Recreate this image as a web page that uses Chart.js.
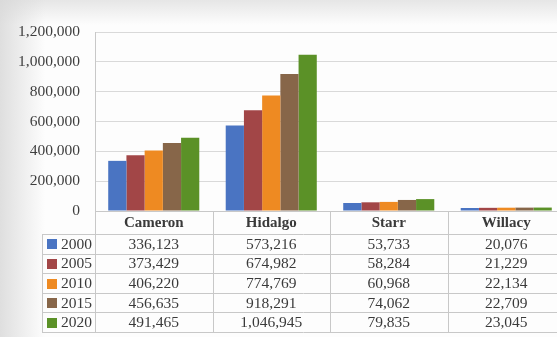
<!DOCTYPE html>
<html>
<head>
<meta charset="utf-8">
<script src="https://cdn.jsdelivr.net/npm/chart.js@4"></script>
<style>
  html, body { margin: 0; padding: 0; overflow: hidden; }
  body {
    width: 557px; height: 337px;
    background:
      linear-gradient(to right, rgba(215,215,215,0.8) 0px, rgba(255,255,255,0) 45px),
      linear-gradient(to bottom, rgba(220,220,220,0.7) 0px, rgba(255,255,255,0) 25px),
      #fdfdfd;
  }
  canvas { display: block; }
</style>
</head>
<body>
<canvas id="myChart" width="570" height="337"></canvas>
<script>
// population by county
const counties = ['Cameron', 'Hidalgo', 'Starr', 'Willacy'];
const years = ['2000', '2005', '2010', '2015', '2020'];

const pop2000 = [336123, 573216, 53733, 20076];
const pop2005 = [373429, 674982, 58284, 21229];
const pop2010 = [406220, 774769, 60968, 22134];
const pop2015 = [456635, 918291, 74062, 22709];
const pop2020 = [491465, 1046945, 79835, 23045];

const yTicks = [0, 200000, 400000, 600000, 800000, 1000000, 1200000];

const colors = ['#4a74c2', '#a24647', '#ee8a22', '#876649', '#5b9127'];
const series = [pop2000, pop2005, pop2010, pop2015, pop2020];

const fontFamily = '"Liberation Serif", "Times New Roman", serif';

// data table drawn under the bars, columns follow the x scale
const dataTable = {
  id: 'dataTable',
  afterDraw(chart) {
    const ctx = chart.ctx;
    const xs = chart.scales.x;
    const area = chart.chartArea;
    const step = xs.width / counties.length;
    const headTop = area.bottom;
    const headH = 23;
    const rowH = 19.6;
    const keyLeft = 42;
    const bottom = headTop + headH + rowH * years.length;

    ctx.save();
    ctx.strokeStyle = '#c8c8c8';
    ctx.lineWidth = 1;

    // horizontal rules
    ctx.beginPath();
    ctx.moveTo(area.left, headTop + 0.5);
    ctx.lineTo(area.right, headTop + 0.5);
    for (let r = 0; r <= years.length; r++) {
      const y = Math.round(headTop + headH + r * rowH) + 0.5;
      ctx.moveTo(keyLeft, y);
      ctx.lineTo(area.right, y);
    }
    // vertical rules
    ctx.moveTo(keyLeft + 0.5, headTop + headH);
    ctx.lineTo(keyLeft + 0.5, bottom);
    ctx.moveTo(area.left + 0.5, area.top);
    ctx.lineTo(area.left + 0.5, bottom);
    for (let i = 1; i <= counties.length; i++) {
      const x = Math.round(xs.getPixelForValue(i) - step / 2) + 0.5;
      ctx.moveTo(x, headTop);
      ctx.lineTo(x, bottom);
    }
    ctx.stroke();

    ctx.textAlign = 'center';
    ctx.textBaseline = 'middle';

    // county names
    ctx.fillStyle = '#3a3a3a';
    ctx.font = 'bold 15px ' + fontFamily;
    counties.forEach((name, i) => {
      ctx.fillText(name, xs.getPixelForValue(i), headTop + headH / 2 + 1);
    });

    // values and legend keys
    ctx.font = '15.5px ' + fontFamily;
    series.forEach((vals, r) => {
      const cy = headTop + headH + r * rowH + rowH / 2 + 1;
      ctx.fillStyle = colors[r];
      ctx.fillRect(47, Math.round(cy - 5.5), 10, 10);
      ctx.fillStyle = '#3a3a3a';
      ctx.textAlign = 'left';
      ctx.fillText(years[r], 61, cy);
      ctx.textAlign = 'center';
      vals.forEach((v, i) => {
        ctx.fillText(v.toLocaleString('en-US'), xs.getPixelForValue(i), cy);
      });
    });
    ctx.restore();
  }
};

const myChart = document.getElementById('myChart');

let barChart = new Chart(myChart, {
  type: 'bar',
  data: {
    labels: counties,
    datasets: series.map((vals, i) => ({
      label: years[i],
      data: vals,
      backgroundColor: colors[i],
      borderWidth: 0,
      categoryPercentage: 0.775,
      barPercentage: 1
    }))
  },
  options: {
    responsive: false,
    animation: false,
    layout: { padding: { top: 32, right: 5, bottom: 126, left: 0 } },
    plugins: {
      legend: { display: false },
      tooltip: { enabled: false }
    },
    scales: {
      x: { display: false },
      y: {
        min: 0,
        max: 1200000,
        afterFit(scale) { scale.width = 95; },
        afterBuildTicks(scale) { scale.ticks = yTicks.map(v => ({ value: v })); },
        grid: { color: '#d9d9d9', drawTicks: false },
        border: { display: false },
        ticks: {
          padding: 15,
          color: '#3e3e3e',
          font: { family: fontFamily, size: 15.5 },
          callback: v => v.toLocaleString('en-US')
        }
      }
    }
  },
  plugins: [dataTable]
});
</script>
</body>
</html>
